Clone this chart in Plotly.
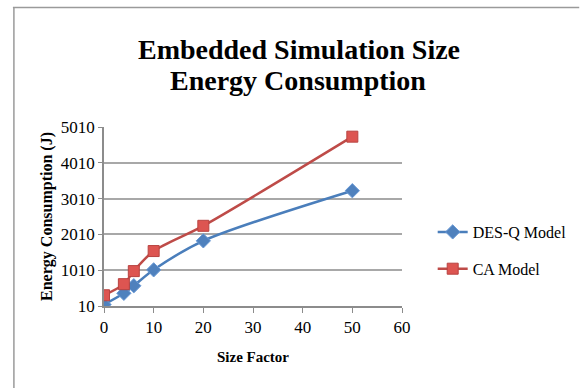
import plotly.graph_objects as go

size_factor = [0, 4, 6, 10, 20, 50]
desq_energy = [50, 365, 575, 1020, 1830, 3230]
ca_energy = [310, 620, 985, 1545, 2250, 4740]
series_names = ["DES-Q Model", "CA Model"]
title_lines = ["Embedded Simulation Size", "Energy Consumption"]
y_ticks = [10, 1010, 2010, 3010, 4010, 5010]
x_ticks = [0, 10, 20, 30, 40, 50, 60]

W, H = 584, 388
L, R, T, B = 104, 179, 127, 82
pw, ph = W - L - R, H - T - B

def px(x):
    return (x - L) / pw

def py(y):
    return (H - B - y) / ph

serif = "Liberation Serif, Times New Roman, serif"

fig = go.Figure()
fig.add_trace(go.Scatter(
    x=size_factor, y=desq_energy, name=series_names[0], mode="lines+markers",
    line=dict(color="#4a7ebb", width=2.5, shape="spline", smoothing=0.8),
    marker=dict(symbol="diamond", size=11, color="#4f81bd", line=dict(color="#6a9ad6", width=1)),
    legendgroup="a",
))
fig.add_trace(go.Scatter(
    x=size_factor, y=ca_energy, name=series_names[1], mode="lines+markers",
    line=dict(color="#be4b48", width=2.5, shape="spline", smoothing=0.8),
    marker=dict(symbol="square", size=11, color="#dd5551", line=dict(color="#b84340", width=1)),
    legendgroup="b",
))

shapes = [
    dict(type="line", xref="paper", yref="paper", x0=px(12), x1=px(584), y0=py(7.5), y1=py(7.5),
         line=dict(color="#9a9a9a", width=1.5)),
    dict(type="line", xref="paper", yref="paper", x0=px(13), x1=px(13), y0=py(7), y1=py(390),
         line=dict(color="#9a9a9a", width=1.5)),
]

annotations = [
    dict(text="<b>" + title_lines[1] + "</b>", xref="paper", yref="paper",
         x=px(300), y=py(80), xanchor="center", yanchor="middle", showarrow=False,
         font=dict(family=serif, size=28, color="black")),
]

fig.update_layout(
    width=W, height=H,
    margin=dict(l=L, r=R, t=T, b=B),
    paper_bgcolor="white", plot_bgcolor="white",
    font=dict(family=serif, color="black", size=16),
    title=dict(text="<b>" + title_lines[0] + "</b>",
               x=299 / W, xanchor="center", y=1 - 49 / H, yanchor="middle",
               font=dict(family=serif, size=28, color="black")),
    xaxis=dict(range=[0, 60], tickvals=x_ticks, showgrid=False, showline=True,
               linecolor="#8c8c8c", linewidth=1.5, ticks="outside", ticklen=5,
               tickcolor="#8c8c8c", zeroline=False,
               tickfont=dict(family=serif, size=17),
               title=dict(text="<b>Size Factor</b>", font=dict(family=serif, size=15), standoff=15)),
    yaxis=dict(range=[10, 5010], tickvals=y_ticks, showgrid=True, gridcolor="#a8a8a8", gridwidth=1.5,
               showline=True, linecolor="#8c8c8c", linewidth=1.5, ticks="outside", ticklen=4,
               tickcolor="#8c8c8c", zeroline=False,
               tickfont=dict(family=serif, size=17),
               title=dict(text="<b>Energy Consumption (J)</b>", font=dict(family=serif, size=16), standoff=4)),
    legend=dict(x=px(436), y=py(215), xanchor="left", yanchor="top",
                font=dict(family=serif, size=16), tracegroupgap=13, itemwidth=30,
                bgcolor="rgba(0,0,0,0)"),
    shapes=shapes,
    annotations=annotations,
    showlegend=True,
)

fig.write_html("out.html")
